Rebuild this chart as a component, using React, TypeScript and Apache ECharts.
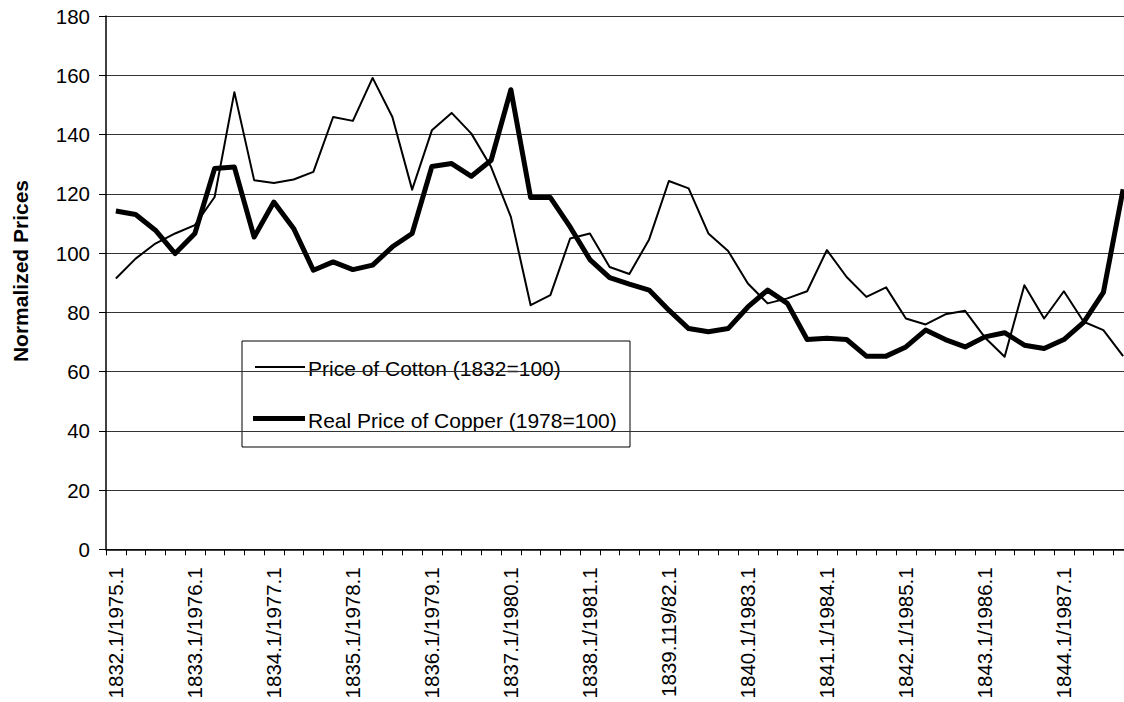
import React, { useEffect, useRef } from "react";
import * as echarts from "echarts";

const tickLabels = [
  "1832.1/1975.1",
  "1833.1/1976.1",
  "1834.1/1977.1",
  "1835.1/1978.1",
  "1836.1/1979.1",
  "1837.1/1980.1",
  "1838.1/1981.1",
  "1839.119/82.1",
  "1840.1/1983.1",
  "1841.1/1984.1",
  "1842.1/1985.1",
  "1843.1/1986.1",
  "1844.1/1987.1",
];

const cottonYears = [1832, 1833, 1834, 1835, 1836, 1837, 1838, 1839, 1840, 1841, 1842, 1843, 1844];
const copperYears = [1975, 1976, 1977, 1978, 1979, 1980, 1981, 1982, 1983, 1984, 1985, 1986, 1987];
const quarters = [2, 3, 4];

const categories: string[] = tickLabels.flatMap((lab, i) => [
  lab,
  ...quarters.map((q) => `${cottonYears[i]}.${q}/${copperYears[i]}.${q}`),
]);

const cotton = [
  91.4, 98.1, 103.2, 106.6, 109.4, 118.9, 154.3, 124.6, 123.6, 124.8, 127.4, 145.9, 144.6,
  159.1, 145.9, 121.4, 141.4, 147.3, 140.3, 129.0, 112.2, 82.4, 85.8, 104.9, 106.6, 95.3,
  92.9, 104.6, 124.3, 121.8, 106.6, 100.7, 89.7, 83.0, 84.7, 87.1, 101.0, 91.9, 85.2, 88.4,
  77.9, 75.9, 79.3, 80.5, 71.5, 65.0, 89.1, 77.9, 87.1, 76.8, 74.0, 65.2,
];

const copper = [
  114.2, 113.0, 107.7, 99.8, 106.6, 128.5, 129.0, 105.4, 117.2, 108.3, 94.2, 97.0, 94.4,
  95.9, 102.1, 106.6, 129.2, 130.2, 125.9, 131.3, 155.1, 118.7, 118.7, 108.8, 97.8, 91.7,
  89.5, 87.5, 80.7, 74.5, 73.4, 74.5, 81.8, 87.5, 83.0, 70.8, 71.2, 70.8, 65.2, 65.2, 68.3,
  74.0, 70.8, 68.3, 71.7, 73.1, 68.9, 67.8, 70.8, 76.6, 86.7, 121.5,
];

const seriesNames = ["Price of Cotton (1832=100)", "Real Price of Copper (1978=100)"];
const yAxisTitle = "Normalized Prices";
const yMin = 0;
const yMax = 180;
const yStep = 20;

const FONT = "'Liberation Sans', Arial, sans-serif";

export default function App() {
  const ref = useRef<HTMLDivElement>(null);
  useEffect(() => {
    if (!ref.current) return;
    const chart = echarts.init(ref.current, null, { renderer: "svg" });
    chart.setOption({
      animation: false,
      backgroundColor: "#fff",
      grid: { left: 106, top: 16, width: 1027, height: 533.3 },
      xAxis: {
        type: "category",
        data: categories,
        boundaryGap: true,
        axisLine: { show: true, lineStyle: { color: "#000", width: 1.5 } },
        axisTick: { show: true, interval: 0, length: 6, lineStyle: { color: "#000", width: 1 } },
        axisLabel: {
          interval: 3,
          rotate: 90,
          margin: 18,
          fontSize: 20.5,
          color: "#000",
          fontFamily: FONT,
        },
        splitLine: { show: false },
      },
      yAxis: {
        type: "value",
        min: yMin,
        max: yMax,
        interval: yStep,
        axisLine: { show: true, lineStyle: { color: "#000", width: 1.5 } },
        axisTick: { show: true, length: 7, lineStyle: { color: "#000", width: 1 } },
        axisLabel: { margin: 16, fontSize: 20.5, color: "#000", fontFamily: FONT },
        splitLine: { show: true, lineStyle: { color: "#333", width: 1 } },
      },
      series: [
        {
          type: "line",
          name: seriesNames[0],
          data: cotton,
          symbol: "none",
          lineStyle: { color: "#000", width: 2, join: "round" },
        },
        {
          type: "line",
          name: seriesNames[1],
          data: copper,
          symbol: "none",
          lineStyle: { color: "#000", width: 5, join: "round" },
        },
      ],
      graphic: [
        {
          type: "text",
          x: 20.5,
          y: 271,
          rotation: Math.PI / 2,
          style: {
            text: yAxisTitle,
            font: `bold 21px ${FONT}`,
            fill: "#000",
            align: "center",
            verticalAlign: "middle",
          },
        },
        {
          type: "group",
          z: 100,
          children: [
            {
              type: "rect",
              shape: { x: 242, y: 341, width: 388, height: 106 },
              style: { fill: "#fff", stroke: "#000", lineWidth: 1 },
            },
            {
              type: "line",
              shape: { x1: 255, y1: 367, x2: 305, y2: 367 },
              style: { stroke: "#000", lineWidth: 2 },
            },
            {
              type: "text",
              x: 308,
              y: 368,
              style: {
                text: seriesNames[0],
                font: `21px ${FONT}`,
                fill: "#000",
                align: "left",
                verticalAlign: "middle",
              },
            },
            {
              type: "line",
              shape: { x1: 253, y1: 418.5, x2: 305, y2: 418.5 },
              style: { stroke: "#000", lineWidth: 5 },
            },
            {
              type: "text",
              x: 308,
              y: 420,
              style: {
                text: seriesNames[1],
                font: `21px ${FONT}`,
                fill: "#000",
                align: "left",
                verticalAlign: "middle",
              },
            },
          ],
        },
      ],
    });
    return () => chart.dispose();
  }, []);
  return (
    <div
      style={{
        position: "fixed",
        left: 0,
        top: 0,
        width: 1124,
        height: 702,
        overflow: "hidden",
        background: "#fff",
      }}
    >
      <div ref={ref} style={{ width: 1150, height: 702 }} />
    </div>
  );
}
